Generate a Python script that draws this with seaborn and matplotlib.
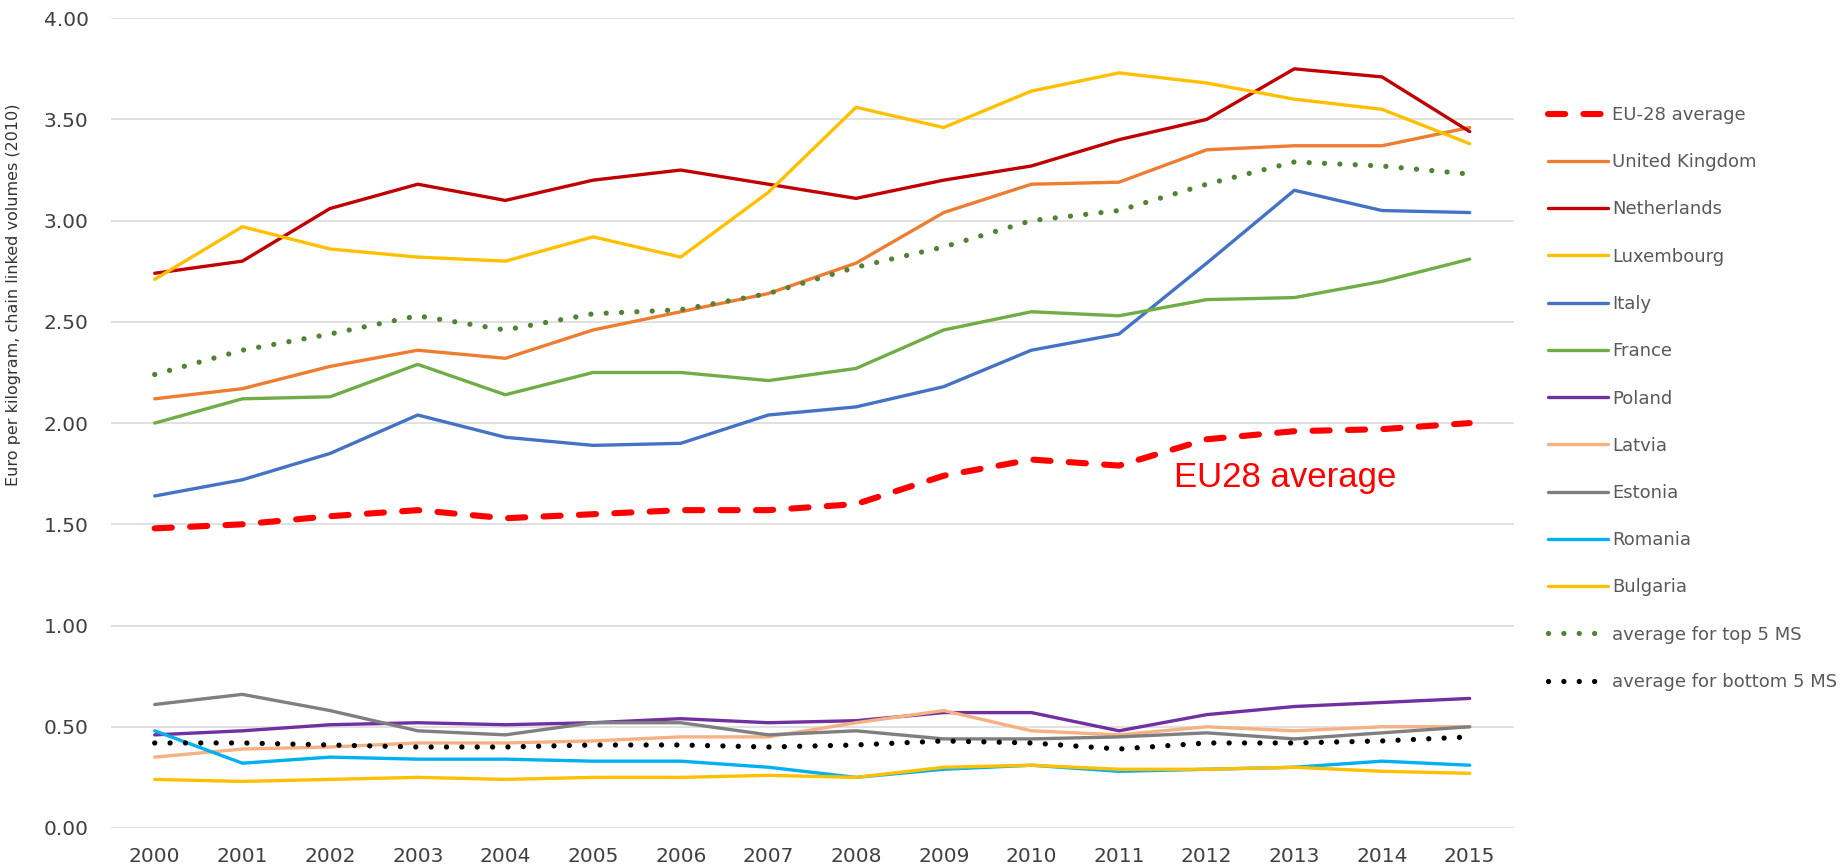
import matplotlib
matplotlib.use("Agg")
import matplotlib.pyplot as plt
import seaborn as sns
import pandas as pd

# =============================
# Dados (euro por kg, volumes encadeados 2010)
# =============================
years = list(range(2000, 2016))

eu28 = [1.48, 1.50, 1.54, 1.57, 1.53, 1.55, 1.57, 1.57, 1.60, 1.74, 1.82, 1.79, 1.92, 1.96, 1.97, 2.00]
uk = [2.12, 2.17, 2.28, 2.36, 2.32, 2.46, 2.55, 2.64, 2.79, 3.04, 3.18, 3.19, 3.35, 3.37, 3.37, 3.46]
netherlands = [2.74, 2.80, 3.06, 3.18, 3.10, 3.20, 3.25, 3.18, 3.11, 3.20, 3.27, 3.40, 3.50, 3.75, 3.71, 3.44]
luxembourg = [2.71, 2.97, 2.86, 2.82, 2.80, 2.92, 2.82, 3.14, 3.56, 3.46, 3.64, 3.73, 3.68, 3.60, 3.55, 3.38]
italy = [1.64, 1.72, 1.85, 2.04, 1.93, 1.89, 1.90, 2.04, 2.08, 2.18, 2.36, 2.44, 2.79, 3.15, 3.05, 3.04]
france = [2.00, 2.12, 2.13, 2.29, 2.14, 2.25, 2.25, 2.21, 2.27, 2.46, 2.55, 2.53, 2.61, 2.62, 2.70, 2.81]
poland = [0.46, 0.48, 0.51, 0.52, 0.51, 0.52, 0.54, 0.52, 0.53, 0.57, 0.57, 0.48, 0.56, 0.60, 0.62, 0.64]
latvia = [0.35, 0.39, 0.40, 0.42, 0.42, 0.43, 0.45, 0.45, 0.52, 0.58, 0.48, 0.46, 0.50, 0.48, 0.50, 0.50]
estonia = [0.61, 0.66, 0.58, 0.48, 0.46, 0.52, 0.52, 0.46, 0.48, 0.44, 0.44, 0.45, 0.47, 0.44, 0.47, 0.50]
romania = [0.48, 0.32, 0.35, 0.34, 0.34, 0.33, 0.33, 0.30, 0.25, 0.29, 0.31, 0.28, 0.29, 0.30, 0.33, 0.31]
bulgaria = [0.24, 0.23, 0.24, 0.25, 0.24, 0.25, 0.25, 0.26, 0.25, 0.30, 0.31, 0.29, 0.29, 0.30, 0.28, 0.27]
top5 = [2.24, 2.36, 2.44, 2.53, 2.46, 2.54, 2.56, 2.64, 2.77, 2.87, 3.00, 3.05, 3.18, 3.29, 3.27, 3.23]
bottom5 = [0.42, 0.42, 0.41, 0.40, 0.40, 0.41, 0.41, 0.40, 0.41, 0.43, 0.42, 0.39, 0.42, 0.42, 0.43, 0.45]

y_ticks = [0, 0.5, 1.0, 1.5, 2.0, 2.5, 3.0, 3.5, 4.0]

# =============================
# Estilo
# =============================
sns.set_style("white")
plt.rcParams['font.family'] = ['DejaVu Sans']

fig = plt.figure(figsize=(18.48, 8.67), dpi=100)
ax = fig.add_axes([0.060, 0.045, 0.759, 0.934])

country_series = [
    ("United Kingdom", uk, "#ED7D31"),
    ("Netherlands", netherlands, "#C00000"),
    ("Luxembourg", luxembourg, "#FFC000"),
    ("Italy", italy, "#4472C4"),
    ("France", france, "#70AD47"),
    ("Poland", poland, "#7030A0"),
    ("Latvia", latvia, "#F4B183"),
    ("Estonia", estonia, "#7F7F7F"),
    ("Romania", romania, "#00B0F0"),
    ("Bulgaria", bulgaria, "#FFC000"),
]

for name, vals, col in country_series:
    sns.lineplot(x=years, y=vals, ax=ax, color=col, linewidth=2.4, label=name,
                 solid_capstyle="round", solid_joinstyle="round")

sns.lineplot(x=years, y=top5, ax=ax, color="#548235", linewidth=3.8,
             linestyle=(0, (0.01, 2.9)), dash_capstyle="round",
             label="average for top 5 MS")
sns.lineplot(x=years, y=bottom5, ax=ax, color="black", linewidth=3.8,
             linestyle=(0, (0.01, 2.9)), dash_capstyle="round",
             label="average for bottom 5 MS")
sns.lineplot(x=years, y=eu28, ax=ax, color="#FF0000", linewidth=4.4,
             linestyle=(0, (2.8, 3.0)), dash_capstyle="round",
             label="EU-28 average")

ax.text(2011.63, 1.684, "EU28 average", color="#FF0000", fontsize=25,
        family=["Liberation Sans", "DejaVu Sans"], va="baseline", ha="left")

# eixos
ax.set_xlim(1999.5, 2015.5)
ax.set_ylim(0, 4.0)
ax.set_xticks(years)
ax.set_xticklabels([str(y) for y in years])
ax.set_yticks(y_ticks)
ax.set_yticklabels([f"{v:.2f}" for v in y_ticks])
ax.tick_params(axis="both", length=0, labelsize=14.5, labelcolor="#404040")
ax.tick_params(axis="y", pad=16)
ax.tick_params(axis="x", pad=14)
ax.grid(axis="y", color="#D9D9D9", linewidth=1.1)
ax.set_axisbelow(True)
for s in ax.spines.values():
    s.set_visible(False)
ax.set_xlabel("")
ax.set_ylabel("")

fig.text(0.0075, 1 - 295 / 867, "Euro per kilogram, chain linked volumes (2010)",
         rotation=90, va="center", ha="center", fontsize=11.5, color="#333333",
         family=["Liberation Sans Narrow", "DejaVu Sans"])

# legenda na ordem original
handles, labels = ax.get_legend_handles_labels()
ax.get_legend().remove()
order = ["EU-28 average", "United Kingdom", "Netherlands", "Luxembourg", "Italy",
         "France", "Poland", "Latvia", "Estonia", "Romania", "Bulgaria",
         "average for top 5 MS", "average for bottom 5 MS"]
hmap = dict(zip(labels, handles))
leg = fig.legend([hmap[k] for k in order], order, loc="upper left",
                 bbox_to_anchor=(1548 / 1848, 1 - 106 / 867), frameon=False,
                 fontsize=13, handlelength=3.3, handletextpad=0.25,
                 labelspacing=1.62, borderpad=0, borderaxespad=0)
for t in leg.get_texts():
    t.set_color("#595959")

fig.savefig("out.png", dpi=100, facecolor="white")
